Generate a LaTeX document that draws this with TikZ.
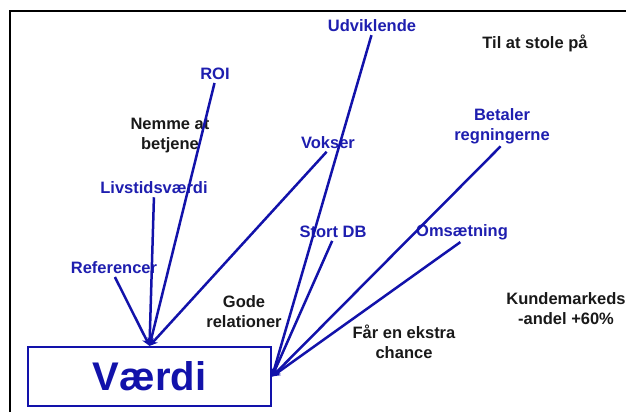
\documentclass[tikz,border=0pt]{standalone}
\usepackage{fontspec}
\setmainfont{Liberation Sans}
\usetikzlibrary{arrows.meta}
\definecolor{dblue}{RGB}{18,18,170}
\definecolor{txtblue}{RGB}{30,30,175}
\begin{document}
\begin{tikzpicture}[x=1pt,y=-1pt,
  lbl/.style={font=\bfseries\fontsize{16.5}{20}\selectfont, align=center, inner sep=1pt},
  bl/.style={lbl,text=txtblue},
  bk/.style={lbl,text=black!90},
  conn/.style={draw=dblue,line width=2.5pt,-{Stealth[length=8pt,width=8pt]}, shorten <=2pt},
  mainbox/.style={draw=dblue,line width=2.2pt,minimum width=243pt,minimum height=59pt,inner sep=0pt,
    text=dblue,font=\bfseries\fontsize{40}{44}\selectfont}]
\useasboundingbox (0,0) rectangle (626,412);
\draw[line width=2.2pt] (10,412) -- (10,11) -- (626,11);

\node[mainbox] (v) at (149.5,376.5) {Værdi};

\node[bl] (udv) at (372,26) {Udviklende};
\node[bk] (til) at (535,43) {Til at stole på};
\node[bl] (roi) at (215,74) {ROI};
\node[bk] (nem) at (170,136) {Nemme at\\betjene};
\node[bl] (vok) at (328,143) {Vokser};
\node[bl] (bet) at (502,126) {Betaler\\regningerne};
\node[bl] (liv) at (154,188) {Livstidsværdi};
\node[bl] (sdb) at (333,232) {Stort DB};
\node[bl] (oms) at (462,232) {Omsætning};
\node[bl] (ref) at (114,268) {Referencer};
\node[bk] (god) at (244,312) {Gode\\relationer};
\node[bk] (kun) at (566,308.5) {Kundemarkeds\\-andel +60\%};
\node[bk] (far) at (404,341.5) {Får en ekstra\\chance};

\draw[conn] (ref.south) -- (v.north);
\draw[conn] (liv.south) -- (v.north);
\draw[conn] (roi.south) -- (v.north);
\draw[conn] (vok.south) -- (v.north);
\draw[conn] (udv.south) -- (v.east);
\draw[conn] (sdb.south) -- (v.east);
\draw[conn] (bet.south) -- (v.east);
\draw[conn] (oms.south) -- (v.east);
\end{tikzpicture}
\end{document}
